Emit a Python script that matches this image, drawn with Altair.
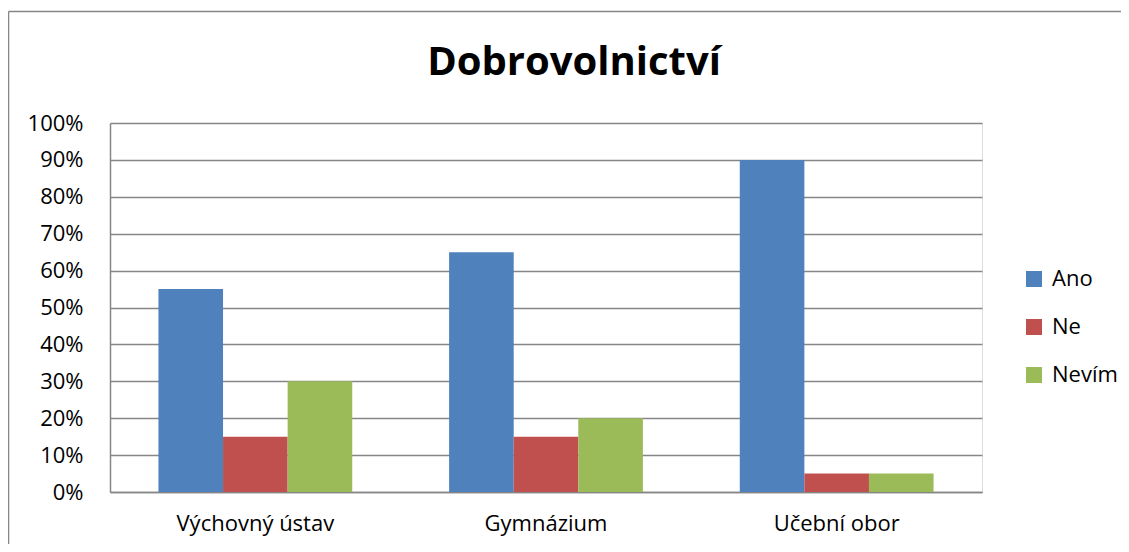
import altair as alt
import pandas as pd

categories = ["Výchovný ústav", "Gymnázium", "Učební obor"]
series = ["Ano", "Ne", "Nevím"]
ano = [0.55, 0.65, 0.90]
ne = [0.15, 0.15, 0.05]
nevim = [0.30, 0.20, 0.05]
colors = ["#4F81BD", "#C0504D", "#9BBB59"]
title_text = "Dobrovolnictví"

rows = []
for i, c in enumerate(categories):
    for s, vals in zip(series, [ano, ne, nevim]):
        rows.append({"kategorie": c, "odpoved": s, "hodnota": vals[i]})
df = pd.DataFrame(rows)

FONT = "Open Sans"
GRID = "#868686"
FS = 22

bars = alt.Chart(df).mark_bar().encode(
    x=alt.X("kategorie:N", sort=categories, title=None,
            scale=alt.Scale(paddingInner=1/3, paddingOuter=1/6),
            axis=alt.Axis(labelAngle=0, ticks=False, domain=True, domainColor=GRID,
                          domainWidth=1.5, labelFontSize=FS, labelFont=FONT,
                          labelColor="#000000", labelPadding=21, grid=False)),
    xOffset=alt.XOffset("odpoved:N", sort=series),
    y=alt.Y("hodnota:Q", title=None,
            scale=alt.Scale(domain=[0, 1], nice=False),
            axis=alt.Axis(format=".0%", values=[i / 10 for i in range(11)],
                          ticks=False, domain=True, domainColor=GRID, domainWidth=1.5,
                          grid=True, gridColor=GRID, gridWidth=1.5,
                          labelFontSize=FS, labelFont=FONT, labelColor="#000000",
                          labelPadding=27)),
    color=alt.Color("odpoved:N", sort=series,
                    scale=alt.Scale(domain=series, range=colors),
                    legend=alt.Legend(title=None, orient="none", legendX=913, legendY=145,
                                      symbolType="square", symbolSize=256,
                                      symbolStrokeWidth=0, labelFontSize=FS,
                                      labelFont=FONT, labelColor="#000000",
                                      labelOffset=7, rowPadding=26, padding=0)),
)

title = alt.Chart(pd.DataFrame({"t": [title_text]})).mark_text(
    font=FONT, fontSize=40, fontWeight="bold", color="#000000",
    align="center", baseline="alphabetic").encode(
    x=alt.value(464), y=alt.value(-48), text="t:N")

border_left = alt.Chart(pd.DataFrame({"d": [0]})).mark_rule(
    color=GRID, strokeWidth=1.5).encode(
    x=alt.value(-101.5), y=alt.value(-111.5), y2=alt.value(460))
border_top = alt.Chart(pd.DataFrame({"d": [0]})).mark_rule(
    color=GRID, strokeWidth=1.5).encode(
    x=alt.value(-101.5), x2=alt.value(1040), y=alt.value(-111.5))

chart = alt.layer(bars, title, border_left, border_top).properties(
    width=872, height=369,
    autosize=alt.AutoSizeParams(type="none"),
    padding={"left": 102, "top": 115, "right": 139, "bottom": 52},
).configure_view(stroke=None).configure(background="#ffffff")

chart.save("out.html", embed_options={"renderer": "svg", "actions": False})
